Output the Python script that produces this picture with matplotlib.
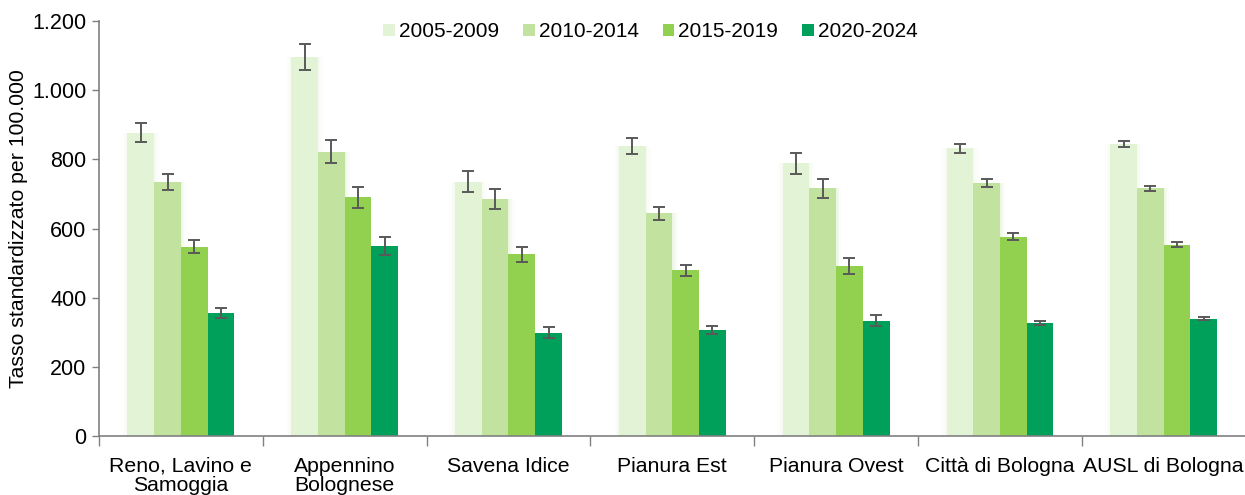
import numpy as np
import matplotlib.pyplot as plt
from matplotlib.ticker import FixedLocator, FuncFormatter

plt.rcParams['font.family'] = ['Liberation Sans', 'DejaVu Sans']

# Dati
zone = ['Reno, Lavino e\nSamoggia', 'Appennino\nBolognese', 'Savena Idice',
        'Pianura Est', 'Pianura Ovest', 'Città di Bologna', 'AUSL di Bologna']
periodi = ['2005-2009', '2010-2014', '2015-2019', '2020-2024']

tasso_2005 = [877, 1095, 735, 838, 789, 832, 844]
tasso_2010 = [735, 822, 686, 644, 716, 731, 716]
tasso_2015 = [548, 690, 526, 480, 493, 577, 553]
tasso_2020 = [355, 550, 299, 306, 334, 327, 339]

err_2005 = [27, 38, 30, 23, 30, 13, 9]
err_2010 = [24, 33, 28, 19, 28, 12, 7]
err_2015 = [20, 30, 22, 16, 23, 10, 7]
err_2020 = [14, 26, 15, 12, 17, 7, 4]

colori = ['#e3f3d6', '#c2e3a0', '#92d050', '#00a05a']

valori = [tasso_2005, tasso_2010, tasso_2015, tasso_2020]
errori = [err_2005, err_2010, err_2015, err_2020]

fig = plt.figure(figsize=(12.45, 4.95), dpi=100)
ax = fig.add_axes([0.0795, 0.119, 0.921, 0.8385])

x = np.arange(len(zone))
w = 0.163
for i in range(4):
    pos = x + (i - 1.5) * w
    # alone sfumato per le prime due serie (effetto bagliore)
    if i < 2:
        for k, a in zip([1.4, 1.25, 1.12], [0.07, 0.1, 0.15]):
            ax.bar(pos, valori[i], w * k, color=colori[i], alpha=a, zorder=1, linewidth=0)
    ax.bar(pos, valori[i], w, color=colori[i], label=periodi[i], zorder=2)
    ax.errorbar(pos, valori[i], yerr=errori[i], fmt='none', ecolor='#595959',
                elinewidth=1.4, capsize=4.5, capthick=1.4, zorder=3)

ax.set_xlim(-0.5, 6.5)
ax.set_ylim(0, 1200)
ax.set_yticks(range(0, 1201, 200))
ax.yaxis.set_major_formatter(FuncFormatter(lambda v, p: f'{int(v):,}'.replace(',', '.')))
ax.set_ylabel('Tasso standardizzato per 100.000', fontsize=15.3, labelpad=3)

ax.xaxis.set_major_locator(FixedLocator(np.arange(-0.5, 7, 1)))
ax.xaxis.set_major_formatter(FuncFormatter(lambda v, p: ''))
ax.xaxis.set_minor_locator(FixedLocator(x))
ax.set_xticklabels(zone, minor=True, linespacing=1.0)
ax.tick_params(axis='x', which='major', length=7, color='#808080', width=1)
ax.tick_params(axis='x', which='minor', length=0, pad=15, labelsize=15.3)
ax.tick_params(axis='y', length=5, color='#808080', width=1, labelsize=15.5, pad=4)

for s in ['top', 'right']:
    ax.spines[s].set_visible(False)
for s in ['left', 'bottom']:
    ax.spines[s].set_color('#808080')
    ax.spines[s].set_linewidth(1.2)

ax.legend(loc='upper center', bbox_to_anchor=(0.481, 1.042), ncol=4, frameon=False,
          fontsize=15, handlelength=0.55, handleheight=0.55, handletextpad=0.2,
          columnspacing=1.15)

fig.savefig('out.png', dpi=100)
